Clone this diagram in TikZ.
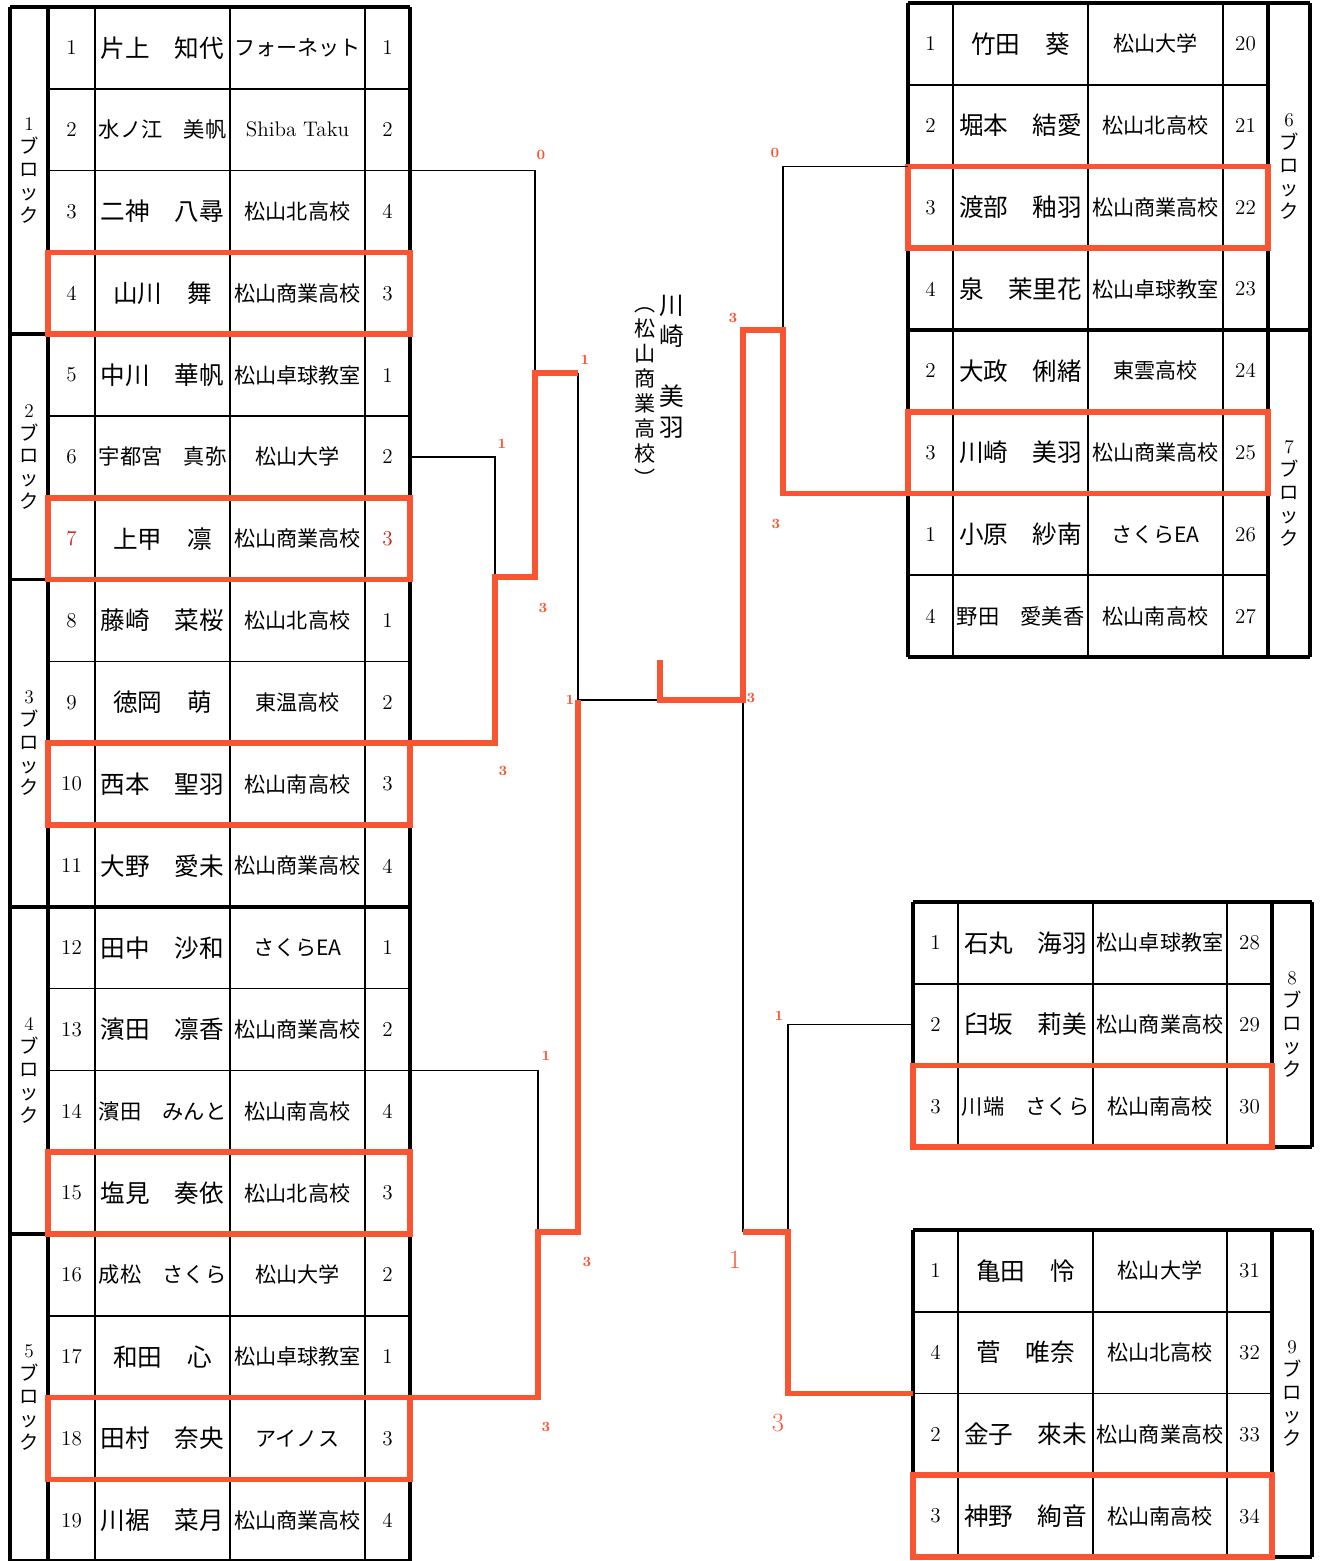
\documentclass[tikz,border=0pt]{standalone}
\usepackage{fontspec}
\usepackage{graphicx}
\usepackage{xcolor}
\usepackage{tikz}

\newfontfamily\jp{Noto Sans CJK JP}
\definecolor{hl}{RGB}{250,85,50}
\definecolor{dred}{RGB}{200,35,25}

\newsavebox\fitbox
\newcommand{\fitto}[2]{\sbox\fitbox{#2}\ifdim\wd\fitbox>#1\resizebox{#1}{!}{\usebox\fitbox}\else\usebox\fitbox\fi}
\newcommand{\blocktxt}[1]{#1\\{\jp ブ}\\{\jp ロ}\\{\jp ッ}\\{\jp ク}}

\tikzset{
    cellline/.style={line width=1pt},
    outline/.style={line width=2.1pt},
    winbox/.style={draw=hl, line width=3.2pt},
    lose/.style={line width=0.9pt},
    win/.style={draw=hl, line width=3.2pt},
    num/.style={font=\fontsize{12}{12}\selectfont},
    nm/.style={font=\jp\fontsize{14}{14}\selectfont},
    sch/.style={font=\jp\fontsize{12}{12}\selectfont},
    blk/.style={align=center, font=\fontsize{11}{13}\selectfont},
    score/.style={text=hl, font=\bfseries\fontsize{8}{8}\selectfont},
    bigscore/.style={text=hl, font=\fontsize{15}{15}\selectfont}
}

\begin{document}
\begin{tikzpicture}[x=0.2mm, y=-0.2mm]
    \useasboundingbox (0,0) rectangle (1320,1561);

    % Left table (blocks 1-5)
    \foreach \r in {1,2,3,5,6,8,9,10,12,13,14,16,17,18}
        \draw[cellline] (48,{7+\r*81.8}) -- (410,{7+\r*81.8});
    \foreach \r in {0,4,7,11,15,19}
        \draw[outline] (10,{7+\r*81.8}) -- (410,{7+\r*81.8});
    \foreach \x in {95,230,365}
        \draw[cellline] (\x,7) -- (\x,1561.2);
    \foreach \x in {10,48,410}
        \draw[outline] (\x,7) -- (\x,1561.2);

    \foreach \n/\pname/\school/\rk [count=\i] in {
        1/片上　知代/フォーネット/1, 2/水ノ江　美帆/\rmfamily Shiba Taku/2,
        3/二神　八尋/松山北高校/4, 4/山川　舞/松山商業高校/3,
        5/中川　華帆/松山卓球教室/1, 6/宇都宮　真弥/松山大学/2,
        {\textcolor{dred}{7}}/上甲　凛/松山商業高校/{\textcolor{dred}{3}},
        8/藤崎　菜桜/松山北高校/1, 9/徳岡　萌/東温高校/2,
        10/西本　聖羽/松山南高校/3, 11/大野　愛未/松山商業高校/4,
        12/田中　沙和/さくらEA/1, 13/濱田　凛香/松山商業高校/2,
        14/濱田　みんと/松山南高校/4, 15/塩見　奏依/松山北高校/3,
        16/成松　さくら/松山大学/2, 17/和田　心/松山卓球教室/1,
        18/田村　奈央/アイノス/3, 19/川裾　菜月/松山商業高校/4}{
        \node[num] (lnum\i) at (71.5,{7+(\i-0.5)*81.8}) {\n};
        \node[nm] (lname\i) at (162.5,{7+(\i-0.5)*81.8}) {\fitto{25.5mm}{\pname}};
        \node[sch] (lschool\i) at (297.5,{7+(\i-0.5)*81.8}) {\fitto{25.5mm}{\school}};
        \node[num] (lrank\i) at (387.5,{7+(\i-0.5)*81.8}) {\rk};
    }
    \node[blk] (blk1) at (29,170.6) {\blocktxt{1}};
    \node[blk] (blk2) at (29,456.9) {\blocktxt{2}};
    \node[blk] (blk3) at (29,743.2) {\blocktxt{3}};
    \node[blk] (blk4) at (29,1070.4) {\blocktxt{4}};
    \node[blk] (blk5) at (29,1397.6) {\blocktxt{5}};
    \foreach \r in {4,7,10,15,18}
        \draw[winbox] (48,{7+(\r-1)*81.8}) rectangle (410,{7+\r*81.8});

    % Right table (blocks 6-7)
    \foreach \r in {1,2,3,5,6,7}
        \draw[cellline] (908,{3+\r*81.75}) -- (1268,{3+\r*81.75});
    \foreach \r in {0,4,8}
        \draw[outline] (908,{3+\r*81.75}) -- (1310,{3+\r*81.75});
    \foreach \x in {953,1088,1223}
        \draw[cellline] (\x,3) -- (\x,657);
    \foreach \x in {908,1268,1310}
        \draw[outline] (\x,3) -- (\x,657);
    \foreach \p/\pname/\school/\sd [count=\i] in {
        1/竹田　葵/松山大学/20, 2/堀本　結愛/松山北高校/21,
        3/渡部　釉羽/松山商業高校/22, 4/泉　茉里花/松山卓球教室/23,
        2/大政　俐緒/東雲高校/24, 3/川崎　美羽/松山商業高校/25,
        1/小原　紗南/さくらEA/26, 4/野田　愛美香/松山南高校/27}{
        \node[num] (rnum\sd) at (930.5,{3+(\i-0.5)*81.75}) {\p};
        \node[nm] (rname\sd) at (1020.5,{3+(\i-0.5)*81.75}) {\fitto{25.5mm}{\pname}};
        \node[sch] (rschool\sd) at (1155.5,{3+(\i-0.5)*81.75}) {\fitto{25.5mm}{\school}};
        \node[num] (rseed\sd) at (1245.5,{3+(\i-0.5)*81.75}) {\sd};
    }
    \node[blk] (blk6) at (1289,166.5) {\blocktxt{6}};
    \node[blk] (blk7) at (1289,493.5) {\blocktxt{7}};
    \draw[winbox] (908,{3+2*81.75}) rectangle (1268,{3+3*81.75});
    \draw[winbox] (908,{3+5*81.75}) rectangle (1268,{3+6*81.75});

    % Right table (block 8)
    \foreach \r in {1,2}
        \draw[cellline] (913,{902+\r*81.7}) -- (1272,{902+\r*81.7});
    \foreach \r in {0,3}
        \draw[outline] (913,{902+\r*81.7}) -- (1312,{902+\r*81.7});
    \foreach \x in {958,1093,1227}
        \draw[cellline] (\x,902) -- (\x,1147.1);
    \foreach \x in {913,1272,1312}
        \draw[outline] (\x,902) -- (\x,1147.1);
    \foreach \p/\pname/\school/\sd [count=\i] in {
        1/石丸　海羽/松山卓球教室/28, 2/臼坂　莉美/松山商業高校/29,
        3/川端　さくら/松山南高校/30}{
        \node[num] (rnum\sd) at (935.5,{902+(\i-0.5)*81.7}) {\p};
        \node[nm] (rname\sd) at (1025.5,{902+(\i-0.5)*81.7}) {\fitto{25.5mm}{\pname}};
        \node[sch] (rschool\sd) at (1160,{902+(\i-0.5)*81.7}) {\fitto{25.5mm}{\school}};
        \node[num] (rseed\sd) at (1249.5,{902+(\i-0.5)*81.7}) {\sd};
    }
    \node[blk] (blk8) at (1292,1024.5) {\blocktxt{8}};
    \draw[winbox] (913,{902+2*81.7}) rectangle (1272,{902+3*81.7});

    % Right table (block 9)
    \foreach \r in {1,2,3}
        \draw[cellline] (913,{1230+\r*81.75}) -- (1272,{1230+\r*81.75});
    \foreach \r in {0,4}
        \draw[outline] (913,{1230+\r*81.75}) -- (1312,{1230+\r*81.75});
    \foreach \x in {958,1093,1227}
        \draw[cellline] (\x,1230) -- (\x,1557);
    \foreach \x in {913,1272,1312}
        \draw[outline] (\x,1230) -- (\x,1557);
    \foreach \p/\pname/\school/\sd [count=\i] in {
        1/亀田　怜/松山大学/31, 4/菅　唯奈/松山北高校/32,
        2/金子　來未/松山商業高校/33, 3/神野　絢音/松山南高校/34}{
        \node[num] (rnum\sd) at (935.5,{1230+(\i-0.5)*81.75}) {\p};
        \node[nm] (rname\sd) at (1025.5,{1230+(\i-0.5)*81.75}) {\fitto{25.5mm}{\pname}};
        \node[sch] (rschool\sd) at (1160,{1230+(\i-0.5)*81.75}) {\fitto{25.5mm}{\school}};
        \node[num] (rseed\sd) at (1249.5,{1230+(\i-0.5)*81.75}) {\sd};
    }
    \node[blk] (blk9) at (1292,1393.5) {\blocktxt{9}};
    \draw[winbox] (913,{1230+3*81.75}) rectangle (1272,1557);

    % Bracket points
    \coordinate (L1) at (410,170.6);
    \coordinate (L2) at (410,456.9);
    \coordinate (L3) at (410,743.2);
    \coordinate (L4) at (410,1070.4);
    \coordinate (L5) at (410,1397.6);
    \coordinate (R6) at (908,166.5);
    \coordinate (R7) at (908,493.5);
    \coordinate (R8) at (913,1024.5);
    \coordinate (R9) at (913,1393.5);
    \coordinate (m23) at (495,577);
    \coordinate (m123) at (535,373);
    \coordinate (m45) at (538,1232);
    \coordinate (sfL) at (578,700);
    \coordinate (m67) at (783,330);
    \coordinate (m89) at (788,1232);
    \coordinate (sfR) at (743,700);
    \coordinate (champ) at (660,700);
    \coordinate (champtop) at (660,660);

    % Lost matches
    \draw[lose] (L1) -| (m123);
    \draw[lose] (L2) -| (m23);
    \draw[lose] (L4) -| (m45);
    \draw[lose] (m123 -| sfL) -- (sfL) -- (champ);
    \draw[lose] (R6) -| (m67);
    \draw[lose] (R8) -| (m89);
    \draw[lose] (m89 -| sfR) -- (sfR);

    % Won matches
    \draw[win] (L3) -| (m23) -| (m123) -- (m123 -| sfL);
    \draw[win] (L5) -| (m45) -| (sfL);
    \draw[win] (R7) -| (m67) -| (sfR) -- (champ) -- (champtop);
    \draw[win] (R9) -| (m89) -- (m89 -| sfR);

    % Scores
    \node[score] (s1) at (541,155) {0};
    \node[score] (s2) at (543,608) {3};
    \node[score] (s3) at (502,444) {1};
    \node[score] (s4) at (503,771) {3};
    \node[score] (s5) at (585,360) {1};
    \node[score] (s6) at (587,1262) {3};
    \node[score] (s7) at (546,1056) {1};
    \node[score] (s8) at (546,1427) {3};
    \node[score] (s9) at (570,700) {1};
    \node[score] (s10) at (751,698) {3};
    \node[score] (s11) at (733,318) {3};
    \node[bigscore] (s12) at (735,1260) {1};
    \node[score] (s13) at (775,153) {0};
    \node[score] (s14) at (776,524) {3};
    \node[score] (s15) at (779,1016) {1};
    \node[bigscore] (s16) at (778,1423) {3};

    % Winner
    \node[align=center, font=\jp\fontsize{14}{17.6}\selectfont] (winner) at (672,367) {川\\崎\\[5.8mm]美\\羽};
    \node[align=center, font=\jp\fontsize{12}{14.3}\selectfont] (winnerschool) at (645,397) {︵\\松\\山\\商\\業\\高\\校\\︶};
\end{tikzpicture}
\end{document}
